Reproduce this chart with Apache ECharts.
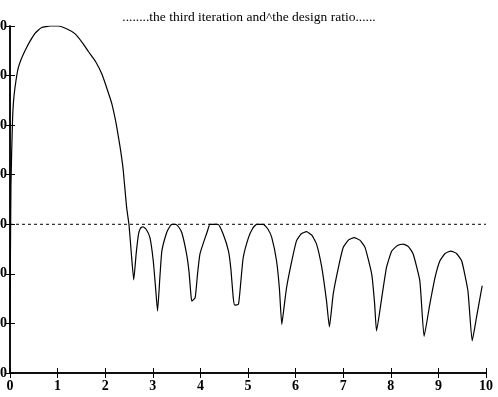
<!DOCTYPE html>
<html>
<head>
<meta charset="utf-8">
<script src="https://cdn.jsdelivr.net/npm/echarts@6/dist/echarts.min.js"></script>
<style>
html, body { margin: 0; padding: 0; background: #fff; }
#chart { width: 498px; height: 397px; }
</style>
</head>
<body>
<div id="chart"></div>
<script>
// curve
var xs = [0, 0.02, 0.05, 0.07, 0.105, 0.175, 0.315, 0.525, 0.665, 0.85, 1.01, 1.2, 1.37, 1.53, 1.65, 1.8, 1.93, 2.05, 2.14, 2.22, 2.28, 2.33, 2.38, 2.45, 2.5, 2.55, 2.6,
    2.65, 2.7, 2.74, 2.79, 2.86, 2.94, 3.01, 3.06, 3.1,
    3.15, 3.19, 3.29, 3.36, 3.4, 3.48, 3.54, 3.61, 3.71, 3.76, 3.8, 3.82,
    3.89, 3.94, 3.99, 4.1, 4.15, 4.2, 4.37, 4.48, 4.59, 4.64, 4.69, 4.72, 4.8,
    4.85, 4.9, 5.01, 5.1, 5.18, 5.32, 5.42, 5.5, 5.6, 5.66, 5.71,
    5.76, 5.81, 5.92, 6.02, 6.12, 6.23, 6.34, 6.44, 6.55, 6.65, 6.71,
    6.79, 6.9, 7.0, 7.12, 7.23, 7.35, 7.46, 7.6, 7.66, 7.7,
    7.81, 7.91, 8.02, 8.14, 8.26, 8.37, 8.47, 8.61, 8.7,
    8.82, 8.93, 9.03, 9.14, 9.26, 9.38, 9.49, 9.62, 9.71,
    9.8, 9.92];
var ys = [10, 38, 50, 54.3, 57.6, 61.6, 65, 68.5, 69.7, 70, 70, 69.4, 68.4, 66.5, 64.8, 62.8, 60.3, 57, 54.3, 50.8, 47.5, 44.5, 40.8, 33.4, 29.9, 24, 18.8,
    24, 28, 29.2, 29.5, 29, 27.3, 22.6, 17, 12.5,
    19.5, 24.6, 28.3, 29.6, 30, 30, 29.5, 28.3, 24, 20.5, 15.9, 14.5,
    15.2, 20, 24, 27.3, 28.7, 30, 30, 28, 24.6, 21, 15.2, 13.7, 13.9,
    18.5, 23.3, 27.3, 29.2, 30, 30, 29, 27.3, 22.6, 17, 9.8,
    13.5, 17.2, 22.6, 26.7, 28.1, 28.5, 27.8, 26, 21.3, 14.5, 9.3,
    15.9, 21.3, 25.3, 26.9, 27.3, 26.8, 25.3, 19.9, 14, 8.5,
    15.2, 21.3, 24.6, 25.7, 26, 25.5, 24, 18.6, 7.4,
    13.9, 19.3, 22.6, 24.1, 24.6, 24.1, 22.6, 16.6, 6.5,
    11.2, 17.6];
var designRatio = 30;
var xRange = [0, 10];
var yRange = [0, 70];

var curve = [];
for (var i = 0; i < xs.length; i++) {
    curve.push([xs[i], ys[i]]);
}

var myChart = echarts.init(document.getElementById('chart'));
var serif = 'Liberation Serif';
var tickStyle = { show: true, inside: true, length: 5, lineStyle: { color: '#000', width: 1 } };
option = {
    animation: false,
    backgroundColor: '#fff',
    title: {
        text: '........the third iteration and^the design ratio......',
        left: 'center',
        top: 5,
        textStyle: { fontFamily: serif, fontSize: 13.5, fontWeight: 'normal', color: '#000' }
    },
    grid: { left: 10, right: 12, top: 26, bottom: 24, outerBoundsMode: 'none', containLabel: false },
    xAxis: [
        {
            type: 'value', min: xRange[0], max: xRange[1], interval: 1,
            axisLine: { lineStyle: { color: '#000', width: 1.5 } },
            axisTick: tickStyle,
            axisLabel: { margin: 6, fontFamily: serif, fontSize: 14, fontWeight: 'bold', color: '#000' },
            splitLine: { show: false }
        },
        {
            type: 'value', position: 'top', min: xRange[0], max: xRange[1], interval: 1,
            axisLine: { show: true, lineStyle: { color: '#000', width: 1.5 } },
            axisTick: tickStyle,
            axisLabel: { show: false },
            splitLine: { show: false }
        }
    ],
    yAxis: [
        {
            type: 'value', min: yRange[0], max: yRange[1], interval: 10,
            axisLine: { show: true, lineStyle: { color: '#000', width: 1.5 } },
            axisTick: tickStyle,
            axisLabel: { margin: 3, fontFamily: serif, fontSize: 14, fontWeight: 'bold', color: '#000' },
            splitLine: { show: false }
        },
        {
            type: 'value', position: 'right', min: yRange[0], max: yRange[1], interval: 10,
            axisLine: { show: true, lineStyle: { color: '#000', width: 1.5 } },
            axisTick: tickStyle,
            axisLabel: { show: false },
            splitLine: { show: false }
        }
    ],
    series: [
        {
            name: 'ratio',
            type: 'line',
            data: curve,
            showSymbol: false,
            smooth: 0.15,
            lineStyle: { color: '#000', width: 1.2 }
        },
        {
            name: 'design',
            type: 'line',
            data: [[xRange[0], designRatio], [xRange[1], designRatio]],
            showSymbol: false,
            lineStyle: { color: '#000', width: 1, type: [3, 3] }
        }
    ]
};
myChart.setOption(option);
</script>
</body>
</html>
